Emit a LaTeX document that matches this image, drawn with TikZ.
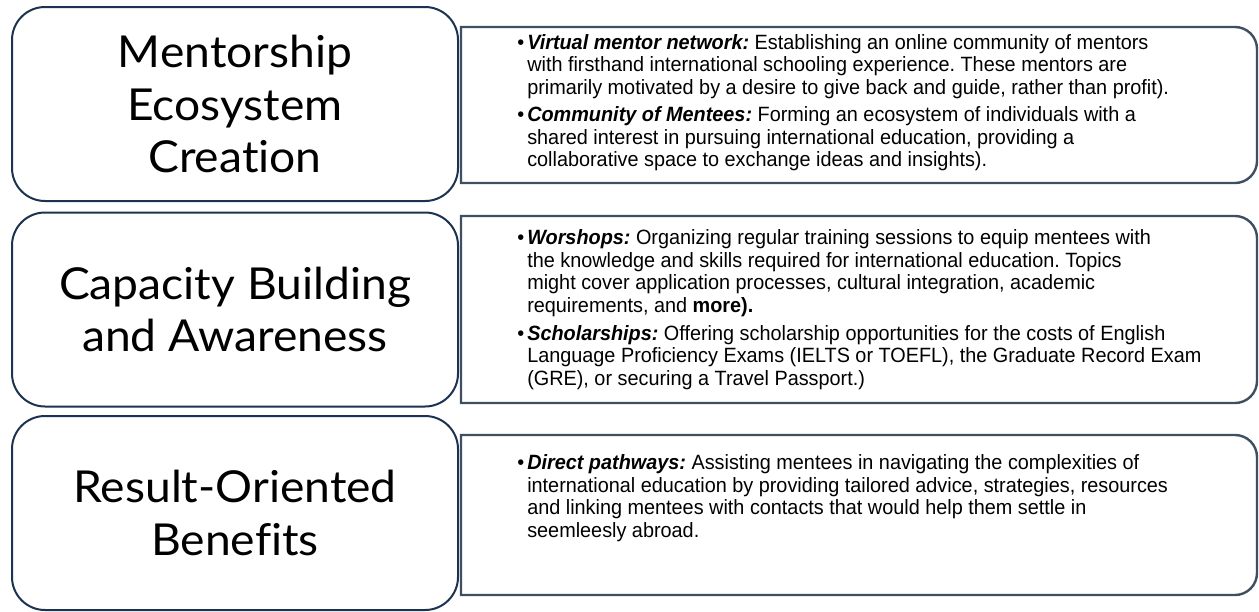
\documentclass[tikz,border=0pt]{standalone}
\usepackage{fontspec}
\setmainfont[Ligatures=NoCommon, FakeStretch=1.05]{Lato}
\newfontfamily\infofont[FakeStretch=0.96]{Liberation Sans}
\usetikzlibrary{positioning}

\definecolor{framenavy}{HTML}{1B3350}
\definecolor{infoslate}{HTML}{3F4F62}

\begin{document}
\frenchspacing
\begin{tikzpicture}[x=0.75pt,y=-0.75pt,
	titlebox/.style={draw=framenavy, line width=1.5pt, rounded corners=24.75pt,
		minimum width=334.5pt, minimum height=145.5pt, inner sep=0pt,
		align=center, font=\fontsize{33}{39.5}\selectfont},
	infoframe/.style={draw=infoslate, line width=1.8pt, fill=white},
	infoitem/.style={anchor=base west, inner sep=0pt, align=left,
		font=\infofont\fontsize{15.5}{16.9}\selectfont}]

	\useasboundingbox (0,0) rectangle (1259,611);

	% Frames of the detail panels (square on the left, rounded on the right)
	\draw[infoframe] (461,27) -- (1235,27) arc[start angle=-90, end angle=0, radius=22]
		-- (1257,161) arc[start angle=0, end angle=90, radius=22] -- (461,183) -- cycle;
	\draw[infoframe] (461,216) -- (1235,216) arc[start angle=-90, end angle=0, radius=22]
		-- (1257,381) arc[start angle=0, end angle=90, radius=22] -- (461,403) -- cycle;
	\draw[infoframe] (461,435) -- (1235,435) arc[start angle=-90, end angle=0, radius=22]
		-- (1257,573) arc[start angle=0, end angle=90, radius=22] -- (461,595) -- cycle;

	% Title boxes
	\node[titlebox] (ecosystem) at (235,104) {Mentorship\\Ecosystem\\Creation};
	\node[titlebox] (capacity) at (235,309.5) {Capacity Building\\and Awareness};
	\node[titlebox] (benefits) at (235,513) {Result-Oriented\\Benefits};

	% Mentorship ecosystem
	\node[infoitem] (mentornet) at (517,49) {\makebox[7.5pt][l]{•}\parbox[t]{560pt}{%
		\textbf{\textit{Virtual mentor network:}} Establishing an online community of mentors\\
		with firsthand international schooling experience. These mentors are\\
		primarily motivated by a desire to give back and guide, rather than profit).}};
	\node[infoitem] (menteecomm) at (517,121.5) {\makebox[7.5pt][l]{•}\parbox[t]{560pt}{%
		\textbf{\textit{Community of Mentees:}} Forming an ecosystem of individuals with a\\
		shared interest in pursuing international education, providing a\\
		collaborative space to exchange ideas and insights).}};

	% Capacity building
	\node[infoitem] (workshops) at (517,244.7) {\makebox[7.5pt][l]{•}\parbox[t]{560pt}{%
		\textbf{\textit{Worshops:}} Organizing regular training sessions to equip mentees with\\
		the knowledge and skills required for international education. Topics\\
		might cover application processes, cultural integration, academic\\
		requirements, and \textbf{more).}}};
	\node[infoitem] (scholarships) at (517,340.3) {\makebox[7.5pt][l]{•}\parbox[t]{560pt}{%
		\textbf{\textit{Scholarships:}} Offering scholarship opportunities for the costs of English\\
		Language Proficiency Exams (IELTS or TOEFL), the Graduate Record Exam\\
		(GRE), or securing a Travel Passport.)}};

	% Result-oriented benefits
	\node[infoitem] (pathways) at (517,469.5) {\makebox[7.5pt][l]{•}\parbox[t]{560pt}{%
		\textbf{\textit{Direct pathways:}} Assisting mentees in navigating the complexities of\\
		international education by providing tailored advice, strategies, resources\\
		and linking mentees with contacts that would help them settle in\\
		seemleesly abroad.}};

\end{tikzpicture}
\end{document}
